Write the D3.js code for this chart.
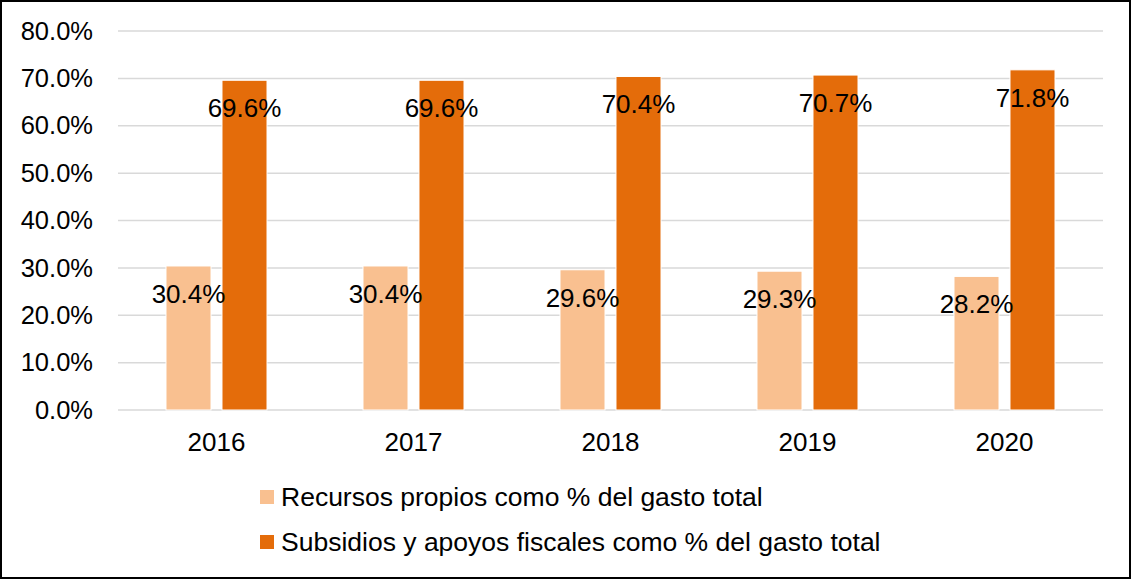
<!DOCTYPE html>
<html>
<head>
<meta charset="utf-8">
<script src="https://cdn.jsdelivr.net/npm/d3@7"></script>
<style>
  body { margin: 0; background: #fff; }
  svg { display: block; font-family: Arial, "Liberation Sans", sans-serif; }
</style>
</head>
<body>
<svg width="1131" height="579"></svg>
<script>
// data
var years = ["2016", "2017", "2018", "2019", "2020"];
var series = ["Recursos propios como % del gasto total", "Subsidios y apoyos fiscales como % del gasto total"];
var propios = [0.304, 0.304, 0.296, 0.293, 0.282];
var subsidios = [0.696, 0.696, 0.704, 0.707, 0.718];
var yTicks = [0, 0.1, 0.2, 0.3, 0.4, 0.5, 0.6, 0.7, 0.8];
var colors = ["#F9C090", "#E46C0A"];

var rows = years.map(function(y, i) { return { year: y, values: [propios[i], subsidios[i]] }; });

var svg = d3.select("svg");

// outer frame
svg.append("rect")
  .attr("x", 1).attr("y", 1).attr("width", 1129).attr("height", 577)
  .attr("fill", "#fff").attr("stroke", "#000").attr("stroke-width", 2);

var x0 = d3.scaleBand().domain(years).range([118, 1103]);
var x1 = d3.scaleBand().domain([0, 1]).range([0, x0.bandwidth()]).paddingInner(0.196).paddingOuter(0.857);
var y = d3.scaleLinear().domain([0, 0.8]).range([410, 31]);

// gridlines
svg.append("g").selectAll("line").data(yTicks).enter().append("line")
  .attr("x1", 118).attr("x2", 1103)
  .attr("y1", function(d) { return y(d); })
  .attr("y2", function(d) { return y(d); })
  .attr("stroke", "#d9d9d9").attr("stroke-width", 1.5);

// y axis
var yaxis = d3.axisLeft(y).tickValues(yTicks).tickFormat(d3.format(".1%")).tickSize(0).tickPadding(0);
svg.append("g").attr("transform", "translate(93,0)").call(yaxis)
  .call(function(g) { g.select(".domain").remove(); })
  .selectAll("text").attr("font-size", 25.5).attr("fill", "#000").attr("font-family", null);

// x axis
var xaxis = d3.axisBottom(x0).tickSize(0).tickPadding(23);
svg.append("g").attr("transform", "translate(0,410)").call(xaxis)
  .call(function(g) { g.select(".domain").remove(); })
  .selectAll("text").attr("font-size", 26).attr("fill", "#000").attr("font-family", null);

// bars
var groups = svg.append("g").selectAll("g").data(rows).enter().append("g")
  .attr("transform", function(d) { return "translate(" + x0(d.year) + ",0)"; });

groups.selectAll("rect").data(function(d) { return d.values; }).enter().append("rect")
  .attr("x", function(d, i) { return x1(i); })
  .attr("y", function(d) { return y(d); })
  .attr("width", x1.bandwidth())
  .attr("height", function(d) { return y(0) - y(d); })
  .attr("fill", function(d, i) { return colors[i]; })
  .attr("stroke", "#fff").attr("stroke-width", 1);

groups.selectAll("text").data(function(d) { return d.values; }).enter().append("text")
  .attr("x", function(d, i) { return x1(i) + x1.bandwidth() / 2; })
  .attr("y", function(d) { return y(d) + 37; })
  .attr("text-anchor", "middle")
  .attr("font-size", 26)
  .attr("fill", "#000")
  .text(function(d) { return d3.format(".1%")(d); });

// legend
var legend = svg.append("g").selectAll("g").data(series).enter().append("g")
  .attr("transform", function(d, i) { return "translate(260," + (490 + i * 45) + ")"; });
legend.append("rect").attr("width", 14).attr("height", 14)
  .attr("fill", function(d, i) { return colors[i]; });
legend.append("text").attr("x", 21).attr("y", 16)
  .attr("font-size", 26.5).attr("fill", "#000")
  .text(function(d) { return d; });
</script>
</body>
</html>
